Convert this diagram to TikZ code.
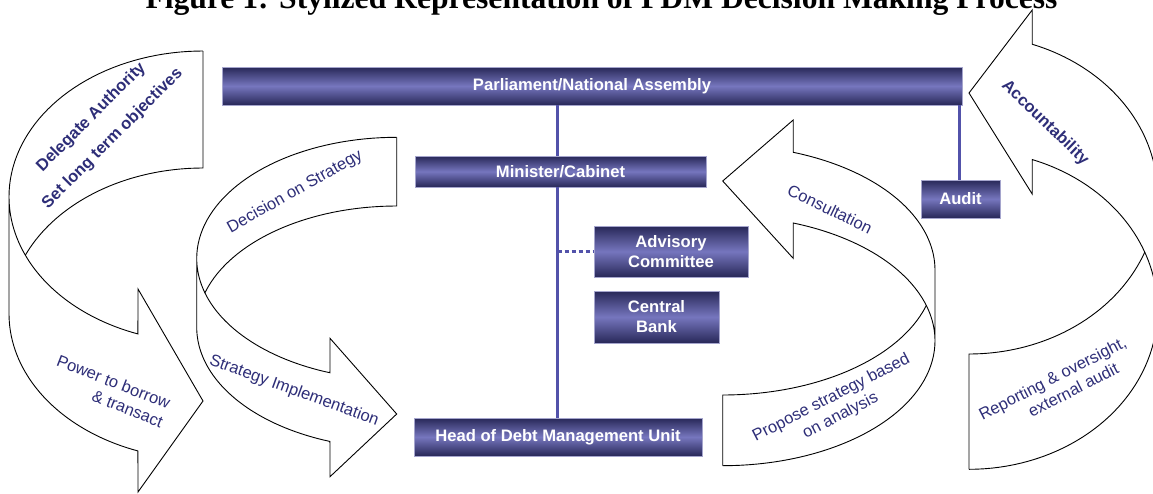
\documentclass[tikz,border=0pt]{standalone}
\usepackage{fontspec}
\setmainfont{Liberation Sans}
\newfontfamily\titlefont{Liberation Serif}
\usetikzlibrary{calc}

\definecolor{navytext}{RGB}{46,46,120}
\definecolor{boxdark}{RGB}{40,40,88}
\definecolor{boxlight}{RGB}{118,118,190}
\definecolor{boxedge}{RGB}{165,165,205}
\definecolor{linkblue}{RGB}{82,82,170}

% elliptical arc pieces: {centre x}{x radius}{centre y}{y radius}{start angle}{end angle}
\tikzset{
  arcfrom/.style n args={6}{insert path={plot[domain=#5:#6,samples=40] ({#1+#2*cos(\x)},{#3-#4*sin(\x)})}},
  arcto/.style n args={6}{insert path={-- plot[domain=#5:#6,samples=40] ({#1+#2*cos(\x)},{#3-#4*sin(\x)})}}
}

\begin{document}
\begin{tikzpicture}[x=1pt,y=-1pt,
  band/.style={draw=black, line width=0.9pt, line join=miter},
  bandfill/.style={fill=white},
  orgbox/.style={draw=boxedge, line width=0.8pt, top color=boxdark, bottom color=boxdark,
    middle color=boxlight, text=white, font=\bfseries\fontsize{16.6}{20}\selectfont,
    inner sep=0pt, align=center},
  link/.style={draw=linkblue, line width=2.8pt},
  lbl/.style={text=navytext, font=\fontsize{16.5}{20}\selectfont, inner sep=0pt},
  lblb/.style={text=navytext, font=\bfseries\fontsize{16.5}{20}\selectfont, inner sep=0pt}]

\useasboundingbox (0,0) rectangle (1153,493);
\clip (0,0) rectangle (1153,493);

% heading
\node[anchor=base, inner sep=0pt, font=\titlefont\bfseries\fontsize{31.6}{36}\selectfont]
  (title) at (601.5,8) {Figure 1: Stylized Representation of PDM Decision Making Process};

% ---- ribbon 1: delegate authority -> power to borrow
\fill[bandfill] [arcfrom={203}{194}{196.7}{145.7}{90}{180}] [arcto={203}{194}{313.7}{145.7}{180}{250.4}]
  -- (138,492) -- (203,401) -- (138,289) [arcto={203}{194}{196.7}{145.7}{250.4}{203.7}]
  [arcto={203}{194}{313.7}{145.7}{156.3}{90}] -- cycle;
\draw[band] [arcfrom={203}{194}{196.7}{145.7}{90}{180}] [arcto={203}{194}{313.7}{145.7}{180}{250.4}]
  -- (138,492) -- (203,401) -- (138,289) [arcto={203}{194}{196.7}{145.7}{250.4}{180}];
\draw[band] (203,51) [arcto={203}{194}{313.7}{145.7}{90}{156.3}];

% ---- ribbon 2: decision on strategy -> implementation
\fill[bandfill] [arcfrom={396.7}{200}{258.5}{121.2}{90}{180}] [arcto={396.7}{200}{327.2}{121.2}{180}{250.5}]
  -- (330,476.7) -- (396.7,414) -- (330,338.3) [arcto={396.7}{200}{258.5}{121.2}{250.5}{196.5}]
  [arcto={396.7}{200}{327.2}{121.2}{163.5}{90}] -- cycle;
\draw[band] [arcfrom={396.7}{200}{258.5}{121.2}{90}{180}] [arcto={396.7}{200}{327.2}{121.2}{180}{250.5}]
  -- (330,476.7) -- (396.7,414) -- (330,338.3) [arcto={396.7}{200}{258.5}{121.2}{250.5}{180}];
\draw[band] (396.7,137.3) [arcto={396.7}{200}{327.2}{121.2}{90}{163.5}];

% ---- ribbon 3: propose strategy -> consultation
\fill[bandfill] [arcfrom={722.7}{212.3}{340.8}{124.9}{270}{360}] [arcto={722.7}{212.3}{270.1}{124.9}{0}{70.6}]
  -- (793.2,120) -- (722.7,181) -- (793.2,258.3) [arcto={722.7}{212.3}{340.8}{124.9}{70.6}{16.4}]
  [arcto={722.7}{212.3}{270.1}{124.9}{343.6}{270}] -- cycle;
\draw[band] [arcfrom={722.7}{212.3}{340.8}{124.9}{270}{360}] [arcto={722.7}{212.3}{270.1}{124.9}{0}{70.6}]
  -- (793.2,120) -- (722.7,181) -- (793.2,258.3) [arcto={722.7}{212.3}{340.8}{124.9}{70.6}{0}];
\draw[band] (722.7,465.7) [arcto={722.7}{212.3}{270.1}{124.9}{270}{343.6}];

% ---- ribbon 4: reporting -> accountability
\fill[bandfill] [arcfrom={969}{188.5}{309.8}{159.5}{270}{360}] [arcto={969}{188.5}{194.5}{159.5}{0}{70.4}]
  -- (1032.2,10) -- (969,93) -- (1032.2,194) [arcto={969}{188.5}{309.8}{159.5}{70.4}{21.2}]
  [arcto={969}{188.5}{194.5}{159.5}{338.8}{270}] -- cycle;
\draw[band] [arcfrom={969}{188.5}{309.8}{159.5}{270}{360}] [arcto={969}{188.5}{194.5}{159.5}{0}{70.4}]
  -- (1032.2,10) -- (969,93) -- (1032.2,194) [arcto={969}{188.5}{309.8}{159.5}{70.4}{0}];
\draw[band] (969,469.3) [arcto={969}{188.5}{194.5}{159.5}{270}{338.8}];

% ---- organisation boxes
\node[orgbox, minimum width=740pt, minimum height=38pt] (parl) at (592,86) {Parliament/National Assembly};
\node[orgbox, minimum width=291pt, minimum height=31pt] (mincab) at (560.5,171.5) {Minister/Cabinet};
\node[orgbox, minimum width=154pt, minimum height=51pt] (advis) at (671,251.5) {Advisory\\Committee};
\node[orgbox, minimum width=125pt, minimum height=52pt] (cbank) at (656.5,317) {Central\\Bank};
\node[orgbox, minimum width=288pt, minimum height=38pt] (hdmu) at (558,437) {Head of Debt Management Unit};
\node[orgbox, minimum width=79pt, minimum height=38pt] (audit) at (960.5,199) {Audit};

% ---- reporting lines
\coordinate (spine) at (557.5,0);
\coordinate (auditx) at (959.5,0);
\draw[link] (parl.south -| spine) -- (mincab.north -| spine);
\draw[link] (mincab.south -| spine) -- (hdmu.north -| spine);
\draw[link, dash pattern=on 4pt off 3pt] (spine |- advis.west) -- (advis.west);
\draw[link] (parl.south -| auditx) -- (audit.north -| auditx);

% ---- ribbon captions
\node[lblb, rotate=45, align=center] (delegate) at (102,128) {Delegate Authority\\[10pt]Set long term objectives};
\node[lbl, rotate=-21.4, align=right] (power) at (110,391) {Power to borrow\\\& transact};
\node[lbl, rotate=29.4] (decision) at (295,192) {Decision on Strategy};
\node[lbl, rotate=-20] (implement) at (294,391) {Strategy Implementation};
\node[lbl, rotate=-25.9] (consult) at (830,209) {Consultation};
\node[lbl, rotate=27.3, align=center] (propose) at (836,407) {Propose strategy based\\on analysis};
\node[lbl, rotate=27.2, align=center] (report) at (1057,387) {Reporting \& oversight,\\\hspace*{26pt}external audit};
\node[lblb, rotate=-43.8] (account) at (1045,123) {Accountability};

\end{tikzpicture}
\end{document}
